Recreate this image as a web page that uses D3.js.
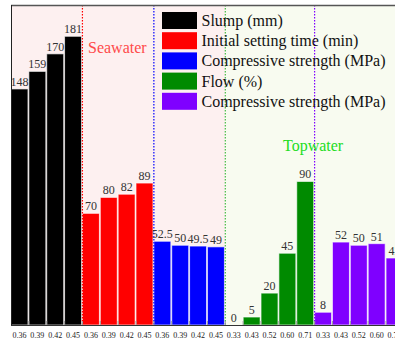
<!DOCTYPE html>
<html>
<head>
<meta charset="utf-8">
<script src="https://cdn.jsdelivr.net/npm/d3@7"></script>
<style>
  html, body { margin: 0; padding: 0; background: #fff; }
  svg { display: block; font-family: "Liberation Serif", "Times New Roman", serif; }
</style>
</head>
<body>
<svg id="chart" width="395" height="342"></svg>
<script>
// Mix properties of seawater vs. tap-water mixes at different ratios
const seriesNames = ["Slump (mm)", "Initial setting time (min)", "Compressive strength (MPa)", "Flow (%)", "Compressive strength (MPa)"];
const seriesColors = ["#000000", "#ff0000", "#0000ff", "#008a00", "#7f00ff"];
const slumpValues = [148, 159, 170, 181];
const settingTimeValues = [70, 80, 82, 89];
const seaStrengthValues = [52.5, 50, 49.5, 49];
const flowValues = [0, 5, 20, 45, 90];
const topStrengthValues = [8, 52, 50, 51, 42];
const seaRatios = ["0.36", "0.39", "0.42", "0.45"];
const topRatios = ["0.33", "0.43", "0.52", "0.60", "0.71"];
const regionNames = ["Seawater", "Topwater"];

const seriesValues = [slumpValues, settingTimeValues, seaStrengthValues, flowValues, topStrengthValues];
const seriesTicks = [seaRatios, seaRatios, seaRatios, topRatios, topRatios];

// flatten into one row per bar
const rows = [];
seriesValues.forEach((vals, s) => {
  vals.forEach((v, j) => rows.push({ idx: rows.length, series: s, value: v, tick: seriesTicks[s][j] }));
});
const groupStart = [];
{ let k = 0; seriesValues.forEach(v => { groupStart.push(k); k += v.length; }); }

const svg = d3.select("#chart");
const plotLeft = 11, plotTop = 5, plotBottom = 325, plotRight = 403;

const x = d3.scaleBand().domain(rows.map(d => d.idx)).range([plotLeft, plotRight]).paddingInner(0.05).paddingOuter(0);
const y = d3.scaleLinear().domain([0, 200]).range([plotBottom, plotTop + 1]);
const edge = k => plotLeft + x.step() * k;

// region backgrounds
const seaEnd = edge(groupStart[3]);
svg.append("rect").attr("x", plotLeft).attr("y", plotTop).attr("width", seaEnd - plotLeft).attr("height", plotBottom - plotTop).attr("fill", "#fdf0f0");
svg.append("rect").attr("x", seaEnd).attr("y", plotTop).attr("width", 395 - seaEnd).attr("height", plotBottom - plotTop).attr("fill", "#f8fbf0");

// bars
svg.append("g").selectAll("rect").data(rows).join("rect")
  .attr("x", d => x(d.idx))
  .attr("y", d => y(d.value))
  .attr("width", x.bandwidth())
  .attr("height", d => y(0) - y(d.value))
  .attr("fill", d => seriesColors[d.series])
  .attr("stroke", "rgba(255,255,255,0.65)")
  .attr("stroke-width", 1);

// dotted separators, coloured like the group that follows
svg.append("g").selectAll("line").data([1, 2, 3, 4]).join("line")
  .attr("x1", s => edge(groupStart[s])).attr("x2", s => edge(groupStart[s]))
  .attr("y1", plotTop).attr("y2", plotBottom)
  .attr("stroke", s => seriesColors[s] === "#008a00" ? "#44bb44" : seriesColors[s])
  .attr("stroke-width", 1.2)
  .attr("stroke-dasharray", "1.5,1.5");

// value labels
svg.append("g").selectAll("text").data(rows).join("text")
  .attr("x", d => x(d.idx) + x.bandwidth() / 2)
  .attr("y", d => y(d.value) - 3)
  .attr("text-anchor", "middle")
  .attr("font-size", 12)
  .attr("fill", "#333")
  .text(d => String(d.value));

// x axis: ratio labels under each bar
const axis = d3.axisBottom(x).tickSize(0).tickPadding(7).tickFormat(i => rows[i].tick);
const ax = svg.append("g").attr("transform", `translate(0,${plotBottom})`).call(axis);
ax.select(".domain").remove();
ax.selectAll("text").attr("font-size", 8).attr("fill", "#222").attr("font-family", "Liberation Serif, serif");

// small inward ticks at band boundaries
svg.append("g").selectAll("line").data(d3.range(1, rows.length)).join("line")
  .attr("x1", k => edge(k)).attr("x2", k => edge(k))
  .attr("y1", plotBottom).attr("y2", plotBottom - 4)
  .attr("stroke", "#999").attr("stroke-width", 1);

// frame
svg.append("line").attr("x1", plotLeft).attr("x2", 395).attr("y1", plotTop + 0.5).attr("y2", plotTop + 0.5).attr("stroke", "#555").attr("stroke-width", 1.5);
svg.append("line").attr("x1", plotLeft + 0.5).attr("x2", plotLeft + 0.5).attr("y1", plotTop).attr("y2", plotBottom + 1).attr("stroke", "#222").attr("stroke-width", 1);
svg.append("line").attr("x1", plotLeft).attr("x2", 395).attr("y1", plotBottom + 0.5).attr("y2", plotBottom + 0.5).attr("stroke", "#333").attr("stroke-width", 1.2);

// region titles
svg.append("text").attr("x", 88).attr("y", 53).attr("font-size", 16).attr("fill", "#ff4a4a").text(regionNames[0]);
svg.append("text").attr("x", 283).attr("y", 151).attr("font-size", 16).attr("fill", "#22dd22").text(regionNames[1]);

// legend
const legend = svg.append("g");
const lg = legend.selectAll("g").data(seriesNames).join("g")
  .attr("transform", (d, i) => `translate(162,${12 + i * 20.2})`);
lg.append("rect").attr("width", 35).attr("height", 17).attr("fill", (d, i) => seriesColors[i]);
lg.append("text").attr("x", 39.5).attr("y", 14).attr("font-size", 16).attr("fill", "#111").text(d => d);
</script>
</body>
</html>
